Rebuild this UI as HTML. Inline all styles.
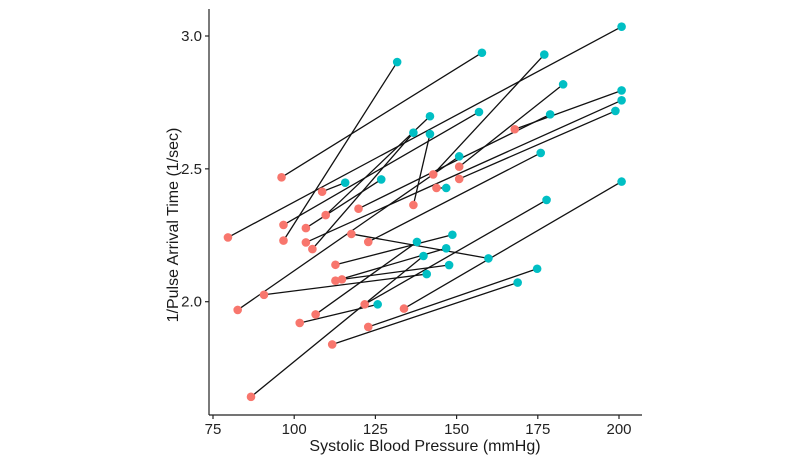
<!DOCTYPE html>
<html><head><meta charset="utf-8"><style>
body{margin:0;background:#fff}
svg{display:block;font-family:"Liberation Sans",sans-serif}
</style></head><body>
<svg id="chart" width="800" height="467">
<g id="lines"></g>
<g id="pts"></g>
<g id="axes"></g>
<text x="425" y="451" text-anchor="middle" font-size="16" fill="#1a1a1a">Systolic Blood Pressure (mmHg)</text>
<text transform="translate(178,225) rotate(-90)" text-anchor="middle" font-size="16" fill="#1a1a1a">1/Pulse Arrival Time (1/sec)</text>
</svg>
<script>
const redX=[96.1,96.7,79.6,96.7,108.6,103.6,105.6,109.7,119.8,117.6,122.8,112.7,112.7,114.7,90.7,82.6,121.7,106.6,101.7,133.8,122.8,111.7,86.7,136.7,142.8,143.8,150.8,150.8,167.9,103.6];
const redY=[2.468,2.230,2.242,2.289,2.414,2.277,2.198,2.326,2.350,2.255,2.225,2.139,2.079,2.084,2.026,1.969,1.990,1.952,1.920,1.974,1.905,1.839,1.642,2.364,2.479,2.428,2.508,2.462,2.649,2.223];
const cyanX=[157.8,131.7,200.8,156.9,115.7,126.8,136.7,141.8,178.8,159.8,175.9,148.7,146.8,147.7,140.8,150.8,177.7,137.8,125.7,200.8,174.8,168.8,139.8,141.8,177.0,146.8,182.8,198.9,200.8,200.8];
const cyanY=[2.937,2.902,3.035,2.714,2.448,2.460,2.636,2.698,2.705,2.163,2.560,2.252,2.201,2.138,2.104,2.547,2.383,2.225,1.990,2.452,2.124,2.072,2.172,2.631,2.930,2.428,2.818,2.718,2.795,2.758];
const xTicks=[75,100,125,150,175,200];
const yTicks=[2.0,2.5,3.0];
const NS="http://www.w3.org/2000/svg";
const sx=v=>213+(v-75)*3.248;
const sy=v=>36+(3.0-v)*265.7;
function mk(t,a,p){const e=document.createElementNS(NS,t);for(const k in a)e.setAttribute(k,a[k]);p.appendChild(e);return e;}
const L=document.getElementById('lines'),P=document.getElementById('pts'),A=document.getElementById('axes');
const n=Math.min(redX.length,cyanX.length);
for(let i=0;i<n;i++){
 const ln=mk('line',{x1:sx(redX[i]),y1:sy(redY[i]),x2:sx(cyanX[i]),y2:sy(cyanY[i]),stroke:'#111','stroke-width':1.3},L);
 
 
}
for(let i=0;i<n;i++){
 const c=mk('circle',{cx:sx(cyanX[i]),cy:sy(cyanY[i]),r:4.3,fill:'#00BFC4'},P);
 
 
}
for(let i=0;i<n;i++){
 const c=mk('circle',{cx:sx(redX[i]),cy:sy(redY[i]),r:4.3,fill:'#F8766D'},P);
 
 
}
const ya=mk('line',{x1:209,y1:9,x2:209,y2:415,stroke:'#222','stroke-width':1.2},A);


const xa=mk('line',{x1:209,y1:415,x2:642,y2:415,stroke:'#222','stroke-width':1.2},A);


xTicks.forEach(v=>{
 mk('line',{x1:sx(v),y1:415,x2:sx(v),y2:419,stroke:'#222','stroke-width':1.2},A);
 const t=mk('text',{x:sx(v),y:434,'text-anchor':'middle','font-size':15,fill:'#222'},A);
 t.textContent=v;
 
 
});
yTicks.forEach(v=>{
 mk('line',{x1:205,y1:sy(v),x2:209,y2:sy(v),stroke:'#222','stroke-width':1.2},A);
 const t=mk('text',{x:202,y:sy(v)+5,'text-anchor':'end','font-size':15,fill:'#222'},A);
 t.textContent=v.toFixed(1);
 
 
});
</script>
</body></html>
